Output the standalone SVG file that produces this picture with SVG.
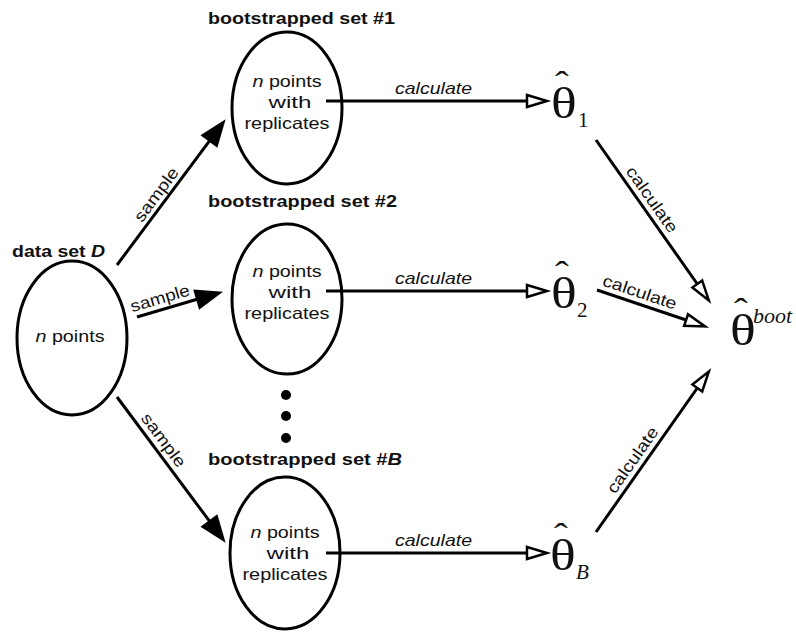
<svg xmlns="http://www.w3.org/2000/svg" width="796" height="632" viewBox="0 0 796 632">
<style>
.ell{fill:none;stroke:#000;stroke-width:3}
.ln{fill:none;stroke:#000;stroke-width:3}
.lbl{font-family:"Liberation Sans",Arial,sans-serif;font-size:16.5px;fill:#111}
.hd{font-family:"Liberation Sans",Arial,sans-serif;font-size:16.5px;font-weight:bold;fill:#111}
.it{font-style:italic}
.th{font-family:"Liberation Serif","Times New Roman",serif;font-size:44px;fill:#111}
.hat{font-size:34px}
.sub{font-family:"Liberation Serif","Times New Roman",serif;font-size:21px;fill:#111}
.sup{font-family:"Liberation Serif","Times New Roman",serif;font-size:22px;font-style:italic;fill:#111}
</style>
<defs>
<marker id="ho" markerUnits="userSpaceOnUse" viewBox="-3 -10 30 20" refX="0" refY="0" markerWidth="30" markerHeight="20" orient="auto" overflow="visible">
<path d="M0,-6 L20,0 L0,6 Z" fill="#fff" stroke="#000" stroke-width="2.5"/>
</marker>
<marker id="fi" markerUnits="userSpaceOnUse" viewBox="-2 -12 30 24" refX="0" refY="0" markerWidth="30" markerHeight="24" orient="auto" overflow="visible">
<path d="M-1,-10.5 L27,0 L-1,10.5 Z" fill="#000"/>
</marker>
</defs>
<rect width="796" height="632" fill="#fff"/>

<g id="dataD">
<ellipse class="ell" cx="72" cy="338" rx="55" ry="77"/>
<text class="hd" x="12" y="257" textLength="93" lengthAdjust="spacingAndGlyphs">data set <tspan class="it">D</tspan></text>
<text class="lbl" x="70" y="342" text-anchor="middle" textLength="69" lengthAdjust="spacingAndGlyphs"><tspan class="it">n</tspan> points</text>
</g>

<g id="set1">
<text class="hd" x="208" y="24" textLength="187" lengthAdjust="spacingAndGlyphs">bootstrapped set #1</text>
<ellipse class="ell" cx="287" cy="108" rx="55" ry="76"/>
<text class="lbl" x="287" y="87" text-anchor="middle" textLength="69" lengthAdjust="spacingAndGlyphs"><tspan class="it">n</tspan> points</text>
<text class="lbl" x="290" y="108" text-anchor="middle" textLength="43" lengthAdjust="spacingAndGlyphs">with</text>
<text class="lbl" x="287" y="129" text-anchor="middle" textLength="85" lengthAdjust="spacingAndGlyphs">replicates</text>
</g>

<g id="set2">
<text class="hd" x="208" y="207" textLength="189" lengthAdjust="spacingAndGlyphs">bootstrapped set #2</text>
<ellipse class="ell" cx="287" cy="299" rx="55" ry="75"/>
<text class="lbl" x="287" y="277" text-anchor="middle" textLength="69" lengthAdjust="spacingAndGlyphs"><tspan class="it">n</tspan> points</text>
<text class="lbl" x="290" y="298" text-anchor="middle" textLength="43" lengthAdjust="spacingAndGlyphs">with</text>
<text class="lbl" x="287" y="319" text-anchor="middle" textLength="85" lengthAdjust="spacingAndGlyphs">replicates</text>
</g>

<g id="dots">
<circle cx="286" cy="395" r="5" fill="#000"/>
<circle cx="286" cy="416" r="5" fill="#000"/>
<circle cx="286" cy="438" r="5" fill="#000"/>
</g>

<g id="setB">
<text class="hd" x="208" y="465" textLength="194" lengthAdjust="spacingAndGlyphs">bootstrapped set #<tspan class="it">B</tspan></text>
<ellipse class="ell" cx="285" cy="553" rx="55" ry="76"/>
<text class="lbl" x="285" y="538" text-anchor="middle" textLength="69" lengthAdjust="spacingAndGlyphs"><tspan class="it">n</tspan> points</text>
<text class="lbl" x="288" y="559" text-anchor="middle" textLength="43" lengthAdjust="spacingAndGlyphs">with</text>
<text class="lbl" x="285" y="580" text-anchor="middle" textLength="85" lengthAdjust="spacingAndGlyphs">replicates</text>
</g>

<g id="theta1">
<text class="th" transform="translate(551,118) scale(1.22,1)">θ<tspan class="hat" dx="-17.7" dy="-23">ˆ</tspan></text>
<text class="sub" x="578" y="127">1</text>
</g>
<g id="theta2">
<text class="th" transform="translate(551,308) scale(1.22,1)">θ<tspan class="hat" dx="-17.7" dy="-23">ˆ</tspan></text>
<text class="sub" x="577" y="317">2</text>
</g>
<g id="thetaB">
<text class="th" transform="translate(550,570) scale(1.22,1)">θ<tspan class="hat" dx="-17.7" dy="-23">ˆ</tspan></text>
<text class="sub" x="576" y="579" font-style="italic">B</text>
</g>
<g id="thetaBoot">
<text class="th" transform="translate(730,345) scale(1.22,1)">θ<tspan class="hat" dx="-17.7" dy="-23">ˆ</tspan></text>
<text class="sup" x="753" y="323">boot</text>
</g>

<g id="connectors">
<line class="ln" x1="117" y1="265" x2="209.5" y2="140.8" marker-end="url(#fi)"/>
<line class="ln" x1="137" y1="317" x2="197.1" y2="299.3" marker-end="url(#fi)"/>
<line class="ln" x1="117" y1="397" x2="209.5" y2="521.2" marker-end="url(#fi)"/>
<line class="ln" x1="326" y1="101" x2="527" y2="101" marker-end="url(#ho)"/>
<line class="ln" x1="326" y1="291" x2="527" y2="291" marker-end="url(#ho)"/>
<line class="ln" x1="326" y1="553" x2="527" y2="553" marker-end="url(#ho)"/>
<line class="ln" x1="596" y1="140" x2="697.3" y2="284" marker-end="url(#ho)"/>
<line class="ln" x1="597" y1="290" x2="686.1" y2="320" marker-end="url(#ho)"/>
<line class="ln" x1="596" y1="532" x2="697.3" y2="388" marker-end="url(#ho)"/>

<text class="lbl" transform="translate(164.8,200.9) rotate(-53.3)" y="-5" text-anchor="middle" textLength="63" lengthAdjust="spacingAndGlyphs">sample</text>
<text class="lbl" transform="translate(163.3,309.3) rotate(-16.4)" y="-6" text-anchor="middle" textLength="61" lengthAdjust="spacingAndGlyphs">sample</text>
<text class="lbl" transform="translate(154.3,447.1) rotate(53.3)" y="-6" text-anchor="middle" textLength="63" lengthAdjust="spacingAndGlyphs">sample</text>

<text class="lbl it" x="433.5" y="94" text-anchor="middle" textLength="77" lengthAdjust="spacingAndGlyphs">calculate</text>
<text class="lbl it" x="433.5" y="284" text-anchor="middle" textLength="77" lengthAdjust="spacingAndGlyphs">calculate</text>
<text class="lbl it" x="433.5" y="546" text-anchor="middle" textLength="77" lengthAdjust="spacingAndGlyphs">calculate</text>

<text class="lbl" transform="translate(642.6,206.2) rotate(54.9)" y="-6" text-anchor="middle" textLength="77" lengthAdjust="spacingAndGlyphs">calculate</text>
<text class="lbl" transform="translate(636.2,303.2) rotate(18.6)" y="-6" text-anchor="middle" textLength="77" lengthAdjust="spacingAndGlyphs">calculate</text>
<text class="lbl" transform="translate(642,466.6) rotate(-54.9)" y="-6" text-anchor="middle" textLength="77" lengthAdjust="spacingAndGlyphs">calculate</text>
</g>
</svg>
